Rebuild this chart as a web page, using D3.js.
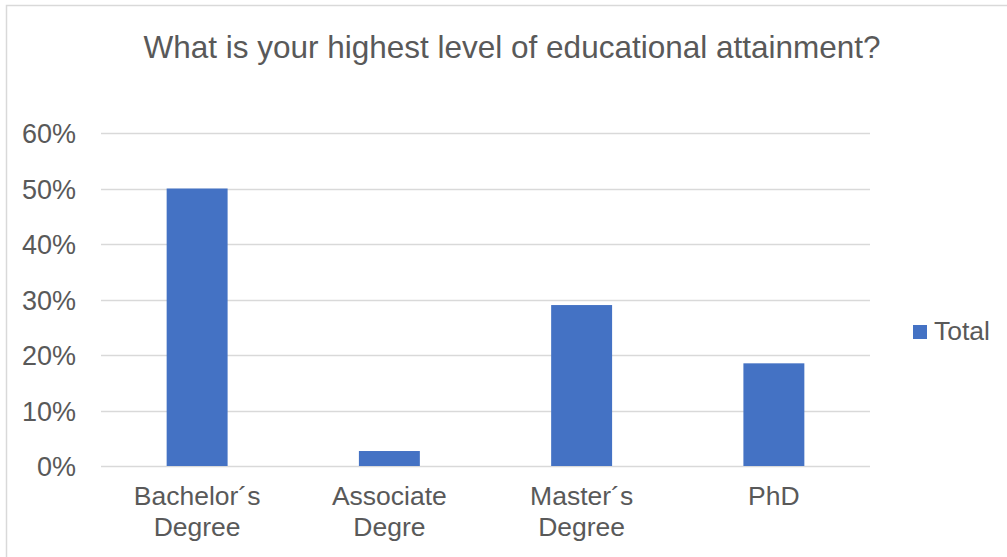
<!DOCTYPE html>
<html>
<head>
<meta charset="utf-8">
<script src="https://cdn.jsdelivr.net/npm/d3@7"></script>
<style>
  html, body { margin: 0; padding: 0; background: #fff; }
  svg { display: block; font-family: "Liberation Sans", Arial, sans-serif; }
</style>
</head>
<body>
<svg id="chart" width="1007" height="557"></svg>
<script>
// Survey responses: share of respondents by highest education level
const categories = [["Bachelor´s", "Degree"], ["Associate", "Degre"], ["Master´s", "Degree"], ["PhD"]];
const values = [0.50, 0.027, 0.29, 0.185];
const yTicks = [0, 0.1, 0.2, 0.3, 0.4, 0.5, 0.6];
const seriesName = "Total";
const titleText = "What is your highest level of educational attainment?";

const svg = d3.select("#chart");
const W = 1007, H = 557;
const textColor = "#595959";
const barColor = "#4472C4";

// outer chart frame
svg.append("rect")
  .attr("x", 6.5).attr("y", 5.5)
  .attr("width", W + 10).attr("height", H + 10)
  .attr("fill", "#fff").attr("stroke", "#d9d9d9").attr("stroke-width", 1.5);

const plot = { left: 101, right: 870, top: 133, bottom: 466 };

const x = d3.scaleBand()
  .domain(d3.range(categories.length))
  .range([plot.left, plot.right])
  .paddingInner(0.683)
  .paddingOuter(0.3415);

const y = d3.scaleLinear().domain([0, 0.6]).range([plot.bottom, plot.top]);

// horizontal gridlines
svg.append("g")
  .selectAll("line")
  .data(yTicks)
  .join("line")
  .attr("x1", plot.left).attr("x2", plot.right)
  .attr("y1", d => Math.round(y(d)) + 0.5).attr("y2", d => Math.round(y(d)) + 0.5)
  .attr("stroke", "#d9d9d9").attr("stroke-width", 1.5);

// y axis labels
const yAxis = d3.axisLeft(y).tickValues(yTicks).tickFormat(d3.format(".0%")).tickSize(0).tickPadding(25);
const gy = svg.append("g").attr("transform", `translate(${plot.left},0)`).call(yAxis);
gy.select(".domain").remove();
gy.selectAll("text")
  .attr("fill", textColor)
  .style("font-size", "27px")
  .attr("dy", "0.36em");

// bars
svg.append("g")
  .selectAll("rect")
  .data(values)
  .join("rect")
  .attr("x", (d, i) => x(i))
  .attr("width", x.bandwidth())
  .attr("y", d => y(d))
  .attr("height", d => y(0) - y(d))
  .attr("fill", barColor);

// x axis category labels (two lines)
const gx = svg.append("g");
categories.forEach((lines, i) => {
  const t = gx.append("text")
    .attr("x", x(i) + x.bandwidth() / 2)
    .attr("y", 505)
    .attr("text-anchor", "middle")
    .attr("fill", textColor)
    .style("font-size", "26.5px");
  lines.forEach((ln, j) => {
    t.append("tspan")
      .attr("x", x(i) + x.bandwidth() / 2)
      .attr("dy", j === 0 ? 0 : 31)
      .text(ln);
  });
});

// title
svg.append("text")
  .attr("x", 512).attr("y", 58)
  .attr("text-anchor", "middle")
  .attr("fill", textColor)
  .style("font-size", "31.5px")
  .text(titleText);

// legend
const lg = svg.append("g").attr("transform", "translate(913,325)");
lg.append("rect").attr("width", 14).attr("height", 14).attr("fill", barColor);
lg.append("text").attr("x", 21).attr("y", 15)
  .attr("fill", textColor).style("font-size", "26.5px").text(seriesName);
</script>
</body>
</html>
